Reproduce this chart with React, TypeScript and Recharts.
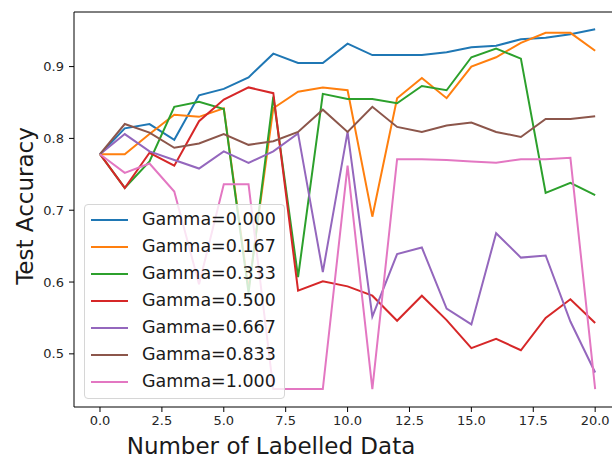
import { LineChart, Line, XAxis, YAxis, Legend, ReferenceLine } from "recharts";

// x positions: number of labelled data
const labelled = [0, 1, 2, 3, 4, 5, 6, 7, 8, 9, 10, 11, 12, 13, 14, 15, 16, 17, 18, 19, 20];

// test accuracy for each gamma
const g000 = [0.778, 0.814, 0.82, 0.798, 0.86, 0.869, 0.885, 0.918, 0.905, 0.905, 0.932, 0.916, 0.916, 0.916, 0.92, 0.927, 0.929, 0.938, 0.94, 0.945, 0.952];
const g167 = [0.778, 0.778, 0.806, 0.833, 0.83, 0.842, 0.59, 0.842, 0.865, 0.871, 0.867, 0.691, 0.856, 0.884, 0.856, 0.9, 0.913, 0.933, 0.947, 0.947, 0.922];
const g333 = [0.778, 0.731, 0.768, 0.844, 0.851, 0.841, 0.585, 0.858, 0.607, 0.862, 0.855, 0.855, 0.849, 0.873, 0.867, 0.913, 0.925, 0.911, 0.724, 0.738, 0.721];
const g500 = [0.778, 0.731, 0.78, 0.762, 0.824, 0.854, 0.871, 0.863, 0.588, 0.601, 0.594, 0.581, 0.546, 0.581, 0.547, 0.508, 0.521, 0.505, 0.55, 0.576, 0.543];
const g667 = [0.778, 0.806, 0.782, 0.77, 0.758, 0.782, 0.766, 0.782, 0.807, 0.614, 0.809, 0.552, 0.639, 0.648, 0.563, 0.541, 0.668, 0.634, 0.637, 0.545, 0.474];
const g833 = [0.778, 0.82, 0.808, 0.787, 0.793, 0.806, 0.791, 0.796, 0.809, 0.84, 0.809, 0.844, 0.816, 0.809, 0.818, 0.822, 0.809, 0.802, 0.827, 0.827, 0.831];
const g1000 = [0.778, 0.752, 0.765, 0.726, 0.597, 0.736, 0.736, 0.451, 0.451, 0.451, 0.762, 0.451, 0.771, 0.771, 0.77, 0.768, 0.766, 0.771, 0.771, 0.773, 0.451];

const xTicks = [0, 2.5, 5, 7.5, 10, 12.5, 15, 17.5, 20];
const yTicks = [0.5, 0.6, 0.7, 0.8, 0.9];

const series = [
  { key: "g000", name: "Gamma=0.000", values: g000, color: "#1f77b4" },
  { key: "g167", name: "Gamma=0.167", values: g167, color: "#ff7f0e" },
  { key: "g333", name: "Gamma=0.333", values: g333, color: "#2ca02c" },
  { key: "g500", name: "Gamma=0.500", values: g500, color: "#d62728" },
  { key: "g667", name: "Gamma=0.667", values: g667, color: "#9467bd" },
  { key: "g833", name: "Gamma=0.833", values: g833, color: "#8c564b" },
  { key: "g1000", name: "Gamma=1.000", values: g1000, color: "#e377c2" },
];

const data = labelled.map((x, i) => {
  const row: any = { x };
  series.forEach((s) => (row[s.key] = s.values[i]));
  return row;
});

const FONT = "DejaVu Sans";

const LegendBox = () => (
  <div
    style={{
      width: 199,
      height: 192,
      border: "1px solid #d6d6d6",
      borderRadius: 4,
      background: "rgba(255,255,255,0.8)",
      fontFamily: FONT,
      fontSize: 17.5,
      color: "#1a1a1a",
      boxSizing: "content-box",
      paddingTop: 1,
    }}
  >
    {series.map((s) => (
      <div key={s.key} style={{ height: 27, display: "flex", alignItems: "center" }}>
        <div style={{ width: 37, height: 2, background: s.color, marginLeft: 6, marginRight: 14 }} />
        <span style={{ lineHeight: "27px" }}>{s.name}</span>
      </div>
    ))}
  </div>
);

const App = () => {
  return (
    <div style={{ position: "absolute", left: 0, top: 0, width: 612, height: 459, background: "#fff" }}>
      <LineChart width={612} height={459} data={data} margin={{ top: 12, right: 0, left: 0, bottom: 0 }}>
        <XAxis
          dataKey="x"
          type="number"
          domain={[-1.05, 20.68]}
          allowDataOverflow
          ticks={xTicks}
          tickFormatter={(v) => v.toFixed(1)}
          height={52}
          tickSize={5}
          tickMargin={4}
          stroke="#000"
          tick={{ fill: "#262626", fontSize: 13, fontFamily: FONT }}
          label={{
            value: "Number of Labelled Data",
            content: () => (
              <text x={271} y={454} textAnchor="middle" fontSize={23} fontFamily={FONT} fill="#1a1a1a">
                Number of Labelled Data
              </text>
            ),
          }}
        />
        <YAxis
          type="number"
          domain={[0.426, 0.976]}
          allowDataOverflow
          ticks={yTicks}
          tickFormatter={(v) => v.toFixed(1)}
          width={74}
          tickSize={5}
          tickMargin={5}
          stroke="#000"
          tick={{ fill: "#262626", fontSize: 13, fontFamily: FONT }}
          label={{
            value: "Test Accuracy",
            content: () => (
              <text
                x={33}
                y={206}
                textAnchor="middle"
                fontSize={23}
                fontFamily={FONT}
                fill="#1a1a1a"
                transform="rotate(-90, 33, 206)"
              >
                Test Accuracy
              </text>
            ),
          }}
        />
        <ReferenceLine y={0.976} stroke="#000" strokeWidth={1} />
        {series.map((s) => (
          <Line
            key={s.key}
            dataKey={s.key}
            name={s.name}
            stroke={s.color}
            strokeWidth={2}
            dot={false}
            isAnimationActive={false}
          />
        ))}
        <Legend
          layout="vertical"
          align="center"
          verticalAlign="middle"
          content={() => <LegendBox />}
          wrapperStyle={{ position: "absolute", left: 84, top: 204, width: 201, height: 194 }}
        />
      </LineChart>
    </div>
  );
};

export default App;
